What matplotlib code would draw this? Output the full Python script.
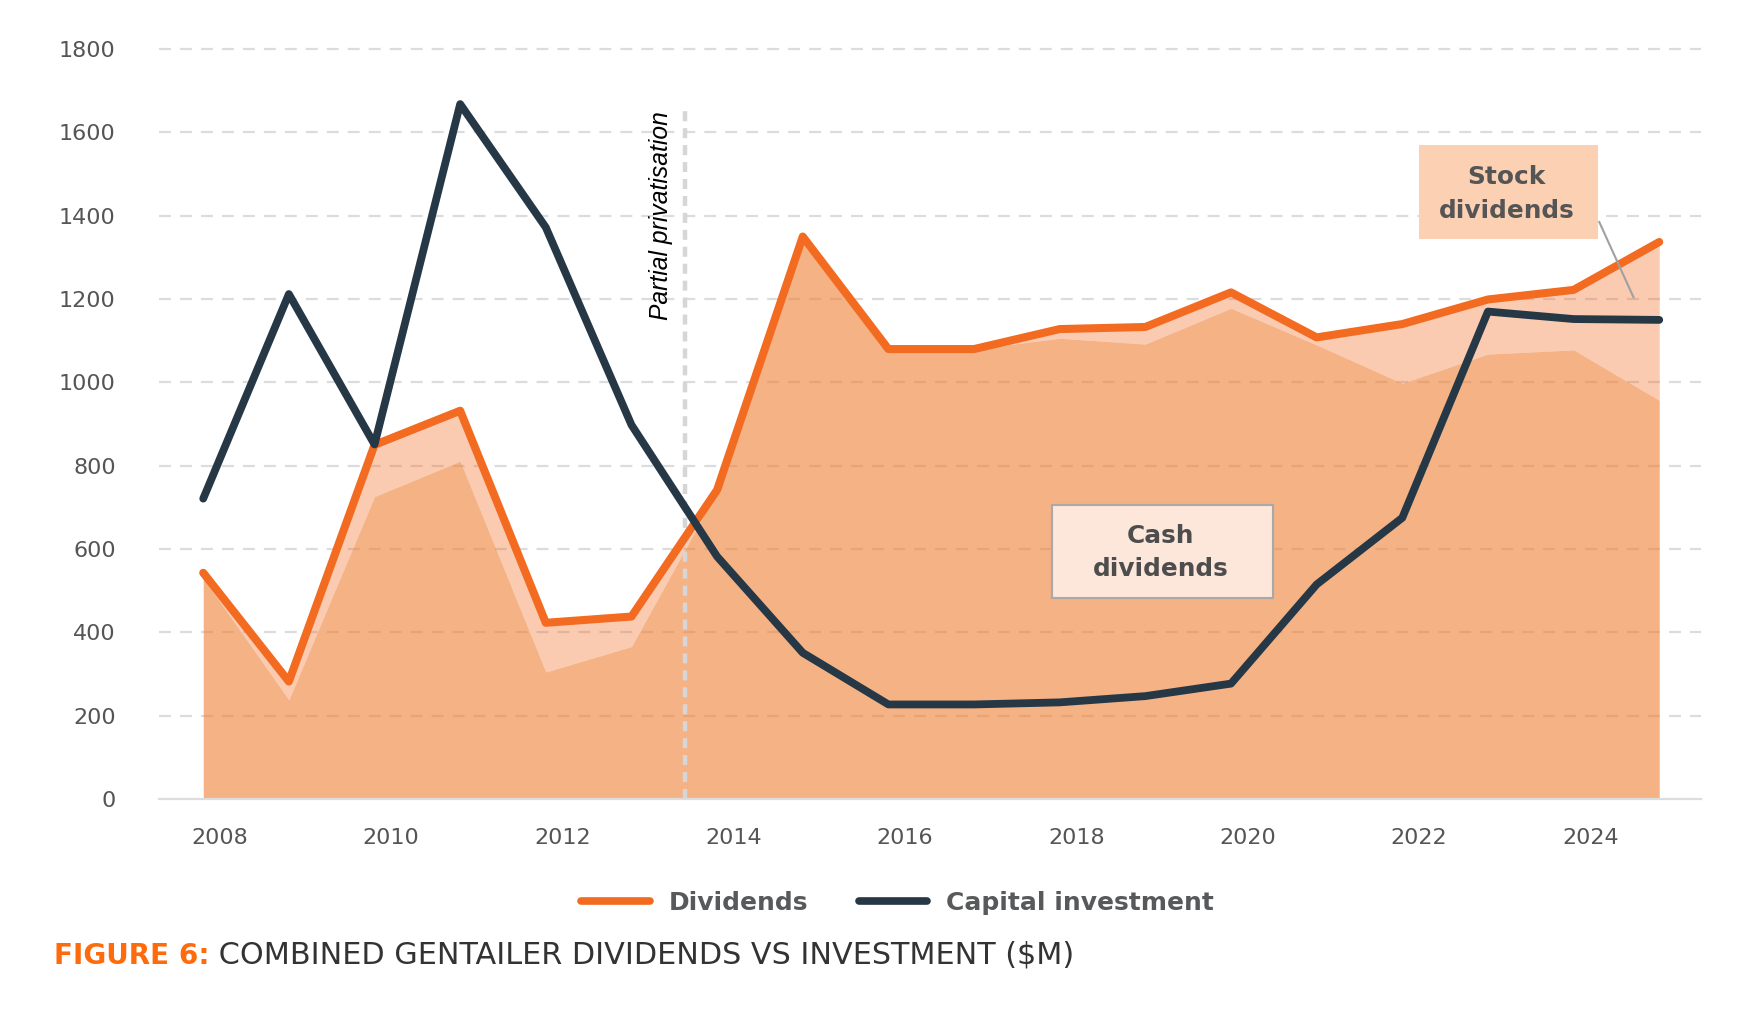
import matplotlib
matplotlib.use("Agg")
import matplotlib.pyplot as plt
from matplotlib.patches import Rectangle
from matplotlib.lines import Line2D

plt.rcParams['font.family'] = ['DejaVu Sans']
plt.rcParams['lines.scale_dashes'] = False

# ---------------- data ----------------
years = list(range(2008, 2026))
dividends = [543, 282, 850, 932, 423, 438, 742, 1350, 1080, 1080, 1128, 1133,
             1216, 1108, 1140, 1199, 1222, 1337]
cash_dividends = [530, 238, 726, 811, 305, 366, 738, 1350, 1080, 1080, 1106, 1092,
                  1178, 1090, 998, 1068, 1078, 957]
capital_investment = [721, 1212, 851, 1668, 1372, 898, 582, 351, 227, 227, 232, 247,
                      277, 515, 675, 1170, 1152, 1150]
y_ticks = [0, 200, 400, 600, 800, 1000, 1200, 1400, 1600, 1800]
x_tick_years = [2008, 2010, 2012, 2014, 2016, 2018, 2020, 2022, 2024]
privatisation_year = 2013.62
series_labels = ["Dividends", "Capital investment"]

# ---------------- style ----------------
ORANGE = '#F26B21'
DARK = '#263746'
GRID = '#DCDCDC'
TICK = '#555555'

fig = plt.figure(figsize=(17.4, 10.14), dpi=100)
ax = fig.add_axes([0.0912, 0.212, 0.8865, 0.7396])
ax.set_xlim(2007.48, 2025.49)
ax.set_ylim(0, 1800)

# grid
for v in y_ticks[1:]:
    ax.axhline(v, color=GRID, lw=1.6, linestyle=(0, (8.6, 6.5)), zorder=0, clip_on=False)
ax.axhline(0, color='#DDDDDD', lw=1.6, zorder=2, clip_on=False)

# areas
ax.fill_between(years, cash_dividends, dividends, color=ORANGE, alpha=0.35, lw=0, zorder=1)
ax.fill_between(years, 0, cash_dividends, color='#EE8034', alpha=0.6, lw=0, zorder=1.1)

# privatisation marker
ax.plot([privatisation_year, privatisation_year], [0, 1659], color='#D6D6D6', lw=3.2,
        linestyle=(0, (7.2, 5.0)), zorder=2)
ax.text(privatisation_year - 0.14, 1651, 'Partial privatisation', rotation=90,
        ha='right', va='top', fontsize=17.7, style='italic',
        family=['Liberation Sans', 'DejaVu Sans'], color='black', zorder=3)

# lines
ax.plot(years, dividends, color=ORANGE, lw=5.8, solid_joinstyle='round',
        solid_capstyle='round', zorder=3)
ax.plot(years, capital_investment, color=DARK, lw=5.6, solid_joinstyle='round',
        solid_capstyle='round', zorder=4)

# annotation boxes
ax.add_patch(Rectangle((2022.19, 1344), 2.10, 226, facecolor='#FBD0B3',
                       edgecolor='none', zorder=5))
ax.text(2023.22, 1452, 'Stock\ndividends', ha='center', va='center', multialignment='center',
        fontsize=17.8, fontweight='bold', color='#555555', linespacing=1.5, zorder=6)
ax.plot([2024.30, 2024.70], [1385, 1204], color='#A0A0A0', lw=1.5, zorder=5)

ax.add_patch(Rectangle((2017.91, 483), 2.58, 223, facecolor='#FDE6DA',
                       edgecolor='#A9A9A9', lw=1.5, zorder=5))
ax.text(2019.18, 592, 'Cash\ndividends', ha='center', va='center', multialignment='center',
        fontsize=17.8, fontweight='bold', color='#4D4D4D', linespacing=1.5, zorder=6)

# axes styling
for s in ax.spines.values():
    s.set_visible(False)
ax.set_yticks(y_ticks)
ax.set_yticklabels([str(v) for v in y_ticks])
ax.set_xticks([y + 0.195 for y in x_tick_years])
ax.set_xticklabels([str(y) for y in x_tick_years])
ax.tick_params(axis='y', length=0, pad=31, labelsize=16, labelcolor=TICK)
ax.tick_params(axis='x', length=0, pad=21, labelsize=16, labelcolor=TICK)

# legend
handles = [Line2D([0], [0], color=ORANGE, lw=5.5, solid_capstyle='round'),
           Line2D([0], [0], color=DARK, lw=5.5, solid_capstyle='round')]
fig.legend(handles, series_labels, loc='center', bbox_to_anchor=(0.516, 0.1095), ncol=2,
           frameon=False, prop={'weight': 'bold', 'size': 18}, handlelength=2.75,
           handletextpad=0.76, columnspacing=2.0, labelcolor='#58595B')

# title
t1 = fig.text(0.0308, 0.0495, 'FIGURE 6:', fontsize=20.1, fontweight='bold', color='#FF6B0B',
              va='baseline', ha='left')
fig.canvas.draw()
bb = t1.get_window_extent()
fig.text(bb.x1 / fig.bbox.width, 0.0495, ' COMBINED GENTAILER DIVIDENDS VS INVESTMENT ($M)',
         fontsize=21.8, color='#333333', va='baseline', ha='left')

fig.savefig('out.png', dpi=100)
